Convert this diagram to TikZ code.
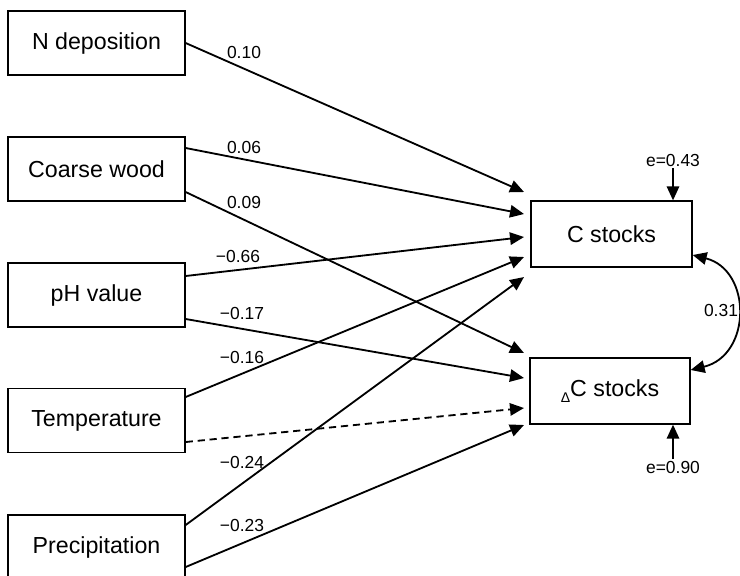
\documentclass[tikz,border=0pt]{standalone}
\usepackage{fontspec}
\setmainfont{Liberation Sans}
\usetikzlibrary{arrows.meta,calc}

\tikzset{
	box/.style={draw, line width=0.9pt, minimum width=4.425cm, minimum height=1.6cm, inner sep=0pt, font=\fontsize{16.5}{18}\selectfont},
	arr/.style={line width=1.3pt, -{Triangle[length=3.5mm,width=3.1mm]}},
	lab/.style={inner sep=1pt, font=\fontsize{12.4}{14}\selectfont}
}

\begin{document}
\begin{tikzpicture}[x=0.025cm, y=-0.025cm]
			\useasboundingbox (0,0) rectangle (740,575);
			% predictors
			\foreach \n/\t/\y in {nd/N deposition/43, cw/Coarse wood/169, ph/pH value/295, tp/Temperature/420.5, pr/Precipitation/547} {
				\node[box] (\n) at (96.5,\y) {\t};
			};
			% responses
			\node[box, minimum width=4.025cm, minimum height=1.65cm] (cs) at (611.5,234) {C stocks};
			\node[box, minimum width=4cm, minimum height=1.65cm] (dc) at (610,391) {\raisebox{-0.55ex}{\fontsize{10}{10}\selectfont Δ}C stocks};
			% arrow ends
			\foreach \c/\y in {c1/192, c2/214, c3/237, c4/257, c5/277, d1/353, d2/378, d3/408, d4/425} {
				\coordinate (\c) at (524,\y);
			};
			\draw[arr] (nd.east) -- (c1);
			\draw[arr] ($(cw.east)+(0,-21)$) -- (c2);
			\draw[arr] ($(ph.east)+(0,-19)$) -- (c3);
			\draw[arr] ($(tp.east)+(0,-23.5)$) -- (c4);
			\draw[arr] ($(pr.east)+(0,-22)$) -- (c5);
			\draw[arr] ($(cw.east)+(0,23)$) -- (d1);
			\draw[arr] ($(ph.east)+(0,24)$) -- (d2);
			\draw[arr, dash pattern=on 0.18cm off 0.12cm] ($(tp.east)+(0,21.5)$) -- (d3);
			\draw[arr] ($(pr.east)+(0,20)$) -- (d4);
			% path coefficients
			\node[lab] (l1) at (244,52) {0.10};
			\node[lab] (l2) at (244,147) {0.06};
			\node[lab] (l3) at (244,202) {0.09};
			\node[lab] (l4) at (238,256) {−0.66};
			\node[lab] (l5) at (242,313) {−0.17};
			\node[lab] (l6) at (242,357) {−0.16};
			\node[lab] (l7) at (242,462) {−0.24};
			\node[lab] (l8) at (242,525) {−0.23};
			% errors and correlation
			\node[lab] (e1) at (673,160) {e=0.43};
			\node[lab] (e2) at (673,467) {e=0.90};
			\draw[arr] (e1.south) -- (e1.south |- cs.north);
			\draw[arr] (e2.north) -- (e2.north |- dc.south);
			\draw[line width=1.3pt, {Triangle[length=3.5mm,width=3.1mm]}-{Triangle[length=3.5mm,width=3.1mm]}] ($(cs.east)+(0,21)$) .. controls (752,270) and (752,355) .. ($(dc.east)+(0,-21)$);
			\node[lab] (r) at (721,310) {0.31};
		\end{tikzpicture}
\end{document}
